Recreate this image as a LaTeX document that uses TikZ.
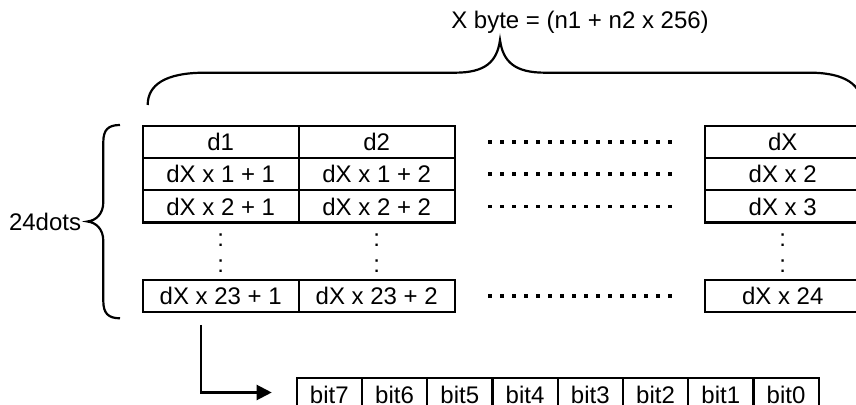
\documentclass[tikz,border=0pt]{standalone}
\usepackage{fontspec}
\setmainfont{Liberation Sans}
\usepackage{tikz}
\usetikzlibrary{arrows.meta,positioning,calc}
\tikzset{
	cell/.style={
		rectangle,
		draw=black,
		line width=1.1pt,
		minimum width=78pt,
		minimum height=16.15pt,
		inner sep=0pt,
		outer sep=0pt,
	},
	bitcell/.style={
		rectangle,
		draw=black,
		line width=1.1pt,
		minimum width=32.625pt,
		minimum height=16.15pt,
		inner sep=0pt,
		outer sep=0pt,
	},
	colon/.style={
		inner sep=0pt,
		outer sep=0pt,
	},
	dotrow/.style={
		line width=1.8pt,
		dash pattern=on 1.8pt off 4.2pt,
	},
	brace/.style={
		line width=1.1pt,
	},
}

\begin{document}
\begin{tikzpicture}[x=0.5pt, y=-0.5pt, font=\fontsize{12}{14}\selectfont]
				\useasboundingbox (0,0) rectangle (856,405);
				% nodes
				\node [cell, anchor=north west] (a1) at (142.7,125.7) {d1};
				\node [cell] (b1) [right=0pt of a1] {d2};
				\node [cell] (c1) [right=125pt of b1] {dX};
				\node [cell] (a2) [below=0pt of a1] {dX x 1 + 1};
				\node [cell] (b2) [below=0pt of b1] {dX x 1 + 2};
				\node [cell] (c2) [below=0pt of c1] {dX x 2};
				\node [cell] (a3) [below=0pt of a2] {dX x 2 + 1};
				\node [cell] (b3) [below=0pt of b2] {dX x 2 + 2};
				\node [cell] (c3) [below=0pt of c2] {dX x 3};
				\node [cell] (a4) [below=28.7pt of a3] {dX x 23 + 1};
				\node [cell] (b4) [below=28.7pt of b3] {dX x 23 + 2};
				\node [cell] (c4) [below=28.7pt of c3] {dX x 24};

				\node [colon] (a3d1) [below=5.4pt of a3] {:};
				\node [colon] (a3d2) [below=6.75pt of a3d1] {:};
				\node [colon] (b3d1) [below=5.4pt of b3] {:};
				\node [colon] (b3d2) [below=6.75pt of b3d1] {:};
				\node [colon] (c3d1) [below=5.4pt of c3] {:};
				\node [colon] (c3d2) [below=6.75pt of c3d1] {:};

				\node [bitcell, anchor=north west] (bit7) at (296.7,378.3) {bit7};
				\node [bitcell] (bit6) [right=0pt of bit7] {bit6};
				\node [bitcell] (bit5) [right=0pt of bit6] {bit5};
				\node [bitcell] (bit4) [right=0pt of bit5] {bit4};
				\node [bitcell] (bit3) [right=0pt of bit4] {bit3};
				\node [bitcell] (bit2) [right=0pt of bit3] {bit2};
				\node [bitcell] (bit1) [right=0pt of bit2] {bit1};
				\node [bitcell] (bit0) [right=0pt of bit1] {bit0};

				\node [anchor=base] (xbyte) at (580,28.3) {X byte = (n1 + n2 x 256)};
				\coordinate (tipL) at (87.5,221.5);
				\node [inner sep=0pt] (dots24) [left=3pt of tipL] {24dots};
				\coordinate (tail) at (200.7,325);
				\coordinate (head) at (271.7,392.5);

				% dotted rows
				\draw [dotrow] ([xshift=16.7pt]b1.east) -- ([xshift=-16.3pt]c1.west);
				\draw [dotrow] ([xshift=16.7pt]b2.east) -- ([xshift=-16.3pt]c2.west);
				\draw [dotrow] ([xshift=16.7pt]b3.east) -- ([xshift=-16.3pt]c3.west);
				\draw [dotrow] ([xshift=16.7pt]b4.east) -- ([xshift=-16.3pt]c4.west);

				% braces
				\draw [brace] (147.7,105) .. controls (147.7,85) and (165,72.7) .. (205,72.7)
					-- (455,72.7) .. controls (485,72.7) and (497,62) .. (500,40)
					.. controls (503,62) and (515,72.7) .. (545,72.7)
					-- (810,72.7) .. controls (845,72.7) and (862,85) .. (862,105);
				\draw [brace] (120,125) .. controls (108,125) and (103.3,130) .. (103.3,142)
					-- (103.3,202) .. controls (103.3,214) and (96,220.5) .. (tipL)
					.. controls (96,222.5) and (103.3,229) .. (103.3,241)
					-- (103.3,301) .. controls (103.3,313) and (108,318.3) .. (120,318.3);

				%arrow
				\draw [line width=1.1pt, -{Triangle[length=7.5pt,width=7.5pt]}] (tail) |- (head);
			\end{tikzpicture}
\end{document}
